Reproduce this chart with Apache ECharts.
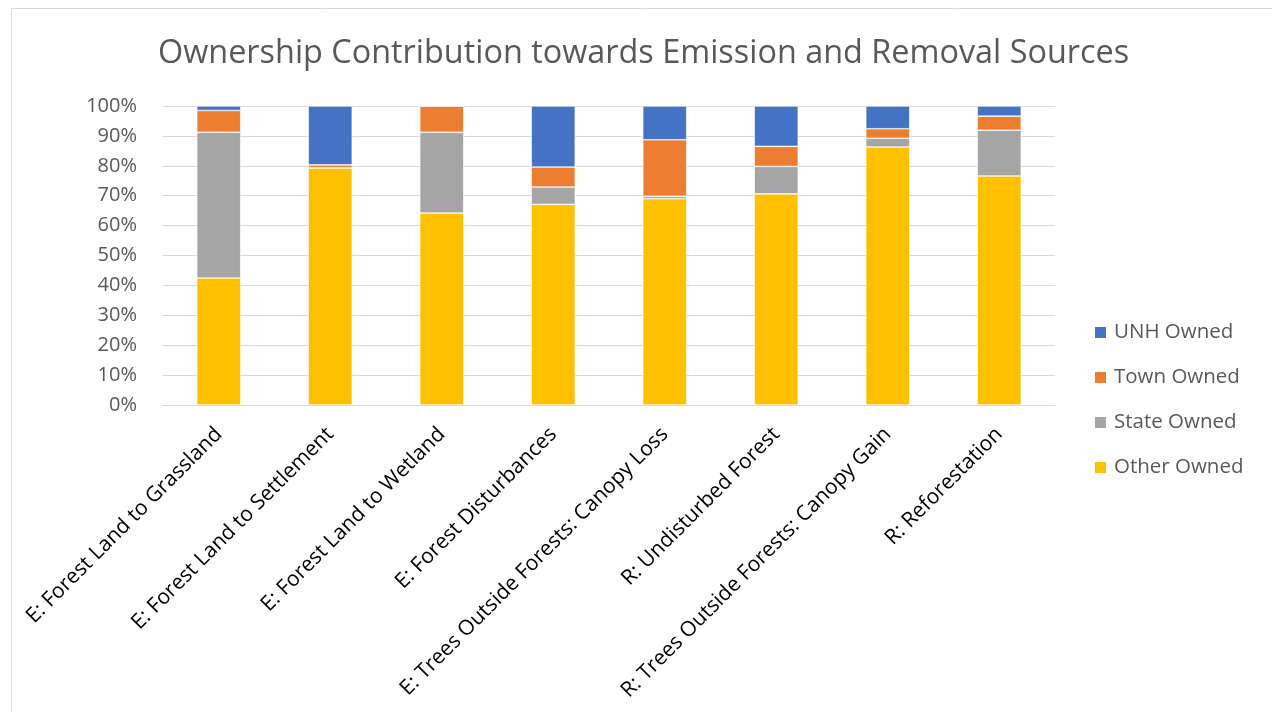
<!DOCTYPE html>
<html>
<head>
<meta charset="utf-8">
<script src="https://cdn.jsdelivr.net/npm/echarts@6/dist/echarts.min.js"></script>
<style>
  html, body { margin: 0; padding: 0; background: #fff; }
  #chart { width: 1272px; height: 712px; }
</style>
</head>
<body>
<div id="chart"></div>
<script>
// Ownership share (%) of each emission (E) and removal (R) source
const categories = [
  'E: Forest Land to Grassland',
  'E: Forest Land to Settlement',
  'E: Forest Land to Wetland',
  'E: Forest Disturbances',
  'E: Trees Outside Forests: Canopy Loss',
  'R: Undisturbed Forest',
  'R: Trees Outside Forests: Canopy Gain',
  'R: Reforestation'
];
const otherOwned = [42.5, 79.3, 64.2, 67.1, 69.0, 70.6, 86.3, 76.6];
const stateOwned = [48.7, 0.0, 27.0, 5.8, 0.8, 9.2, 2.9, 15.3];
const townOwned  = [7.3, 1.0, 8.8, 6.7, 18.9, 6.7, 3.2, 4.7];
const unhOwned   = [1.5, 19.7, 0.0, 20.4, 11.3, 13.5, 7.6, 3.4];
const yTicks = [0, 10, 20, 30, 40, 50, 60, 70, 80, 90, 100];

const FONT = '"Open Sans", sans-serif';
const chart = echarts.init(document.getElementById('chart'));

function bar(name, data, color) {
  return {
    name: name,
    type: 'bar',
    stack: 'share',
    data: data,
    barWidth: 44,
    itemStyle: { color: color, borderColor: '#ffffff', borderWidth: 0.6 },
    emphasis: { disabled: true }
  };
}

chart.setOption({
  animation: false,
  backgroundColor: '#ffffff',
  title: {
    text: 'Ownership Contribution towards Emission and Removal Sources',
    left: 153,
    top: 33,
    textStyle: { fontFamily: FONT, fontSize: 32.4, fontWeight: 'normal', color: '#595959' }
  },
  graphic: [{
    type: 'rect',
    shape: { x: 11.5, y: 8.5, width: 1300, height: 800 },
    style: { fill: 'none', stroke: '#d9d9d9', lineWidth: 1 },
    silent: true,
    z: -1
  }],
  legend: {
    orient: 'vertical',
    left: 1088,
    top: 317,
    itemWidth: 13,
    itemHeight: 13,
    itemGap: 24,
    icon: 'rect',
    data: ['UNH Owned', 'Town Owned', 'State Owned', 'Other Owned'],
    textStyle: { fontFamily: FONT, fontSize: 20.5, color: '#595959', padding: [0, 0, 0, 2] }
  },
  grid: { left: 163, right: 217, top: 106, bottom: 307, containLabel: false },
  xAxis: {
    type: 'category',
    data: categories,
    axisTick: { show: false },
    axisLine: { lineStyle: { color: '#d9d9d9', width: 1 } },
    axisLabel: {
      rotate: 45,
      interval: 0,
      margin: 26,
      fontFamily: FONT,
      fontSize: 21,
      color: '#000000'
    }
  },
  yAxis: {
    type: 'value',
    min: 0,
    max: 100,
    interval: 10,
    axisLine: { show: false },
    axisTick: { show: false },
    splitLine: { lineStyle: { color: '#d9d9d9', width: 1 } },
    axisLabel: {
      margin: 26,
      fontFamily: FONT,
      fontSize: 20,
      color: '#595959',
      formatter: v => (yTicks.indexOf(v) >= 0 ? v + '%' : '')
    }
  },
  series: [
    bar('Other Owned', otherOwned, '#FFC000'),
    bar('State Owned', stateOwned, '#A5A5A5'),
    bar('Town Owned', townOwned, '#ED7D31'),
    bar('UNH Owned', unhOwned, '#4472C4')
  ]
});
</script>
</body>
</html>
